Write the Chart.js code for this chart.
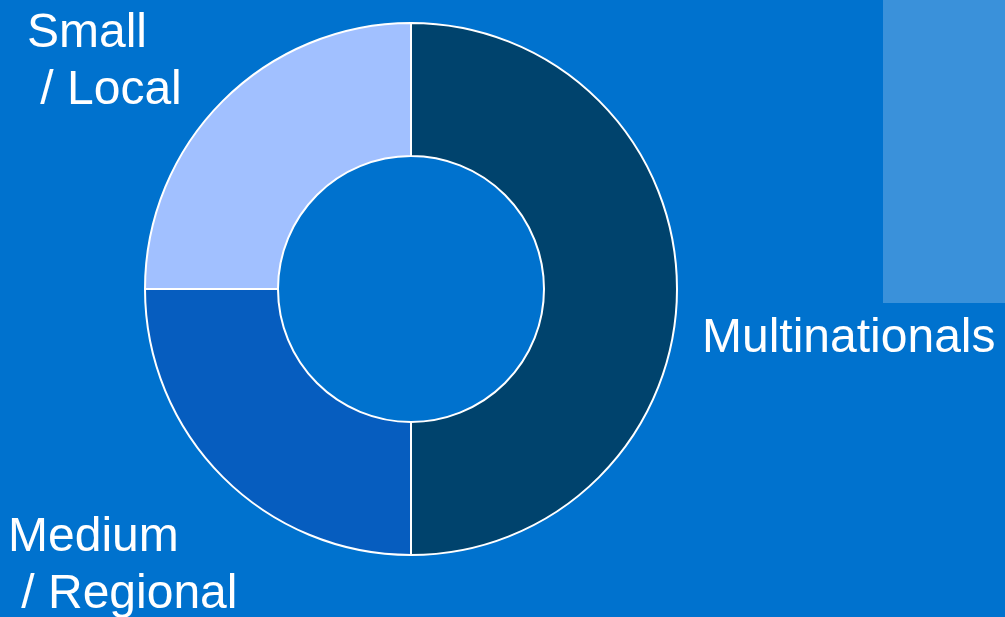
<!DOCTYPE html>
<html>
<head>
<meta charset="utf-8">
<script src="https://cdn.jsdelivr.net/npm/chart.js@4/dist/chart.umd.min.js"></script>
<style>
  html, body { margin: 0; padding: 0; background: #0072CE; }
  #wrap { width: 1005px; height: 617px; position: relative; }
</style>
</head>
<body>
<div id="wrap"><canvas id="chart" width="1005" height="617"></canvas></div>
<script>
// データ
const categories = ['Multinationals', 'Medium / Regional', 'Small / Local'];
const shares = [50, 25, 25];
const segmentColors = ['#00436D', '#065DBF', '#A1C0FF'];

// ラベル（行ごと）
const labelLines = [
    { lines: ['Multinationals'], x: 702, y: 352 },
    { lines: ['Medium', ' / Regional'], x: 8, y: 551 },
    { lines: ['Small', ' / Local'], x: 27, y: 47 }
];

// 背景と右上の四角
const backdropPlugin = {
    id: 'backdrop',
    beforeDraw(chart) {
        const ctx = chart.ctx;
        ctx.save();
        ctx.fillStyle = '#0072CE';
        ctx.fillRect(0, 0, chart.width, chart.height);
        ctx.fillStyle = '#3A91DA';
        ctx.fillRect(883, 0, chart.width - 883, 303);
        ctx.restore();
    }
};

// カテゴリ名を描画
const labelPlugin = {
    id: 'sliceLabels',
    afterDraw(chart) {
        const ctx = chart.ctx;
        ctx.save();
        ctx.fillStyle = '#FFFFFF';
        ctx.font = '48px "Liberation Sans", Arial, sans-serif';
        ctx.textBaseline = 'alphabetic';
        labelLines.forEach(item => {
            item.lines.forEach((line, i) => {
                ctx.fillText(line, item.x, item.y + i * 57);
            });
        });
        ctx.restore();
    }
};

new Chart(document.getElementById('chart'), {
    type: 'doughnut',
    data: {
        labels: categories,
        datasets: [{
            data: shares,
            backgroundColor: segmentColors,
            borderColor: '#FFFFFF',
            borderWidth: 2,
            hoverOffset: 0
        }]
    },
    options: {
        responsive: false,
        animation: false,
        cutout: '50%',
        layout: {
            padding: { left: 144, right: 327, top: 22, bottom: 61 }
        },
        plugins: {
            legend: { display: false },
            tooltip: { enabled: false }
        }
    },
    plugins: [backdropPlugin, labelPlugin]
});
</script>
</body>
</html>
